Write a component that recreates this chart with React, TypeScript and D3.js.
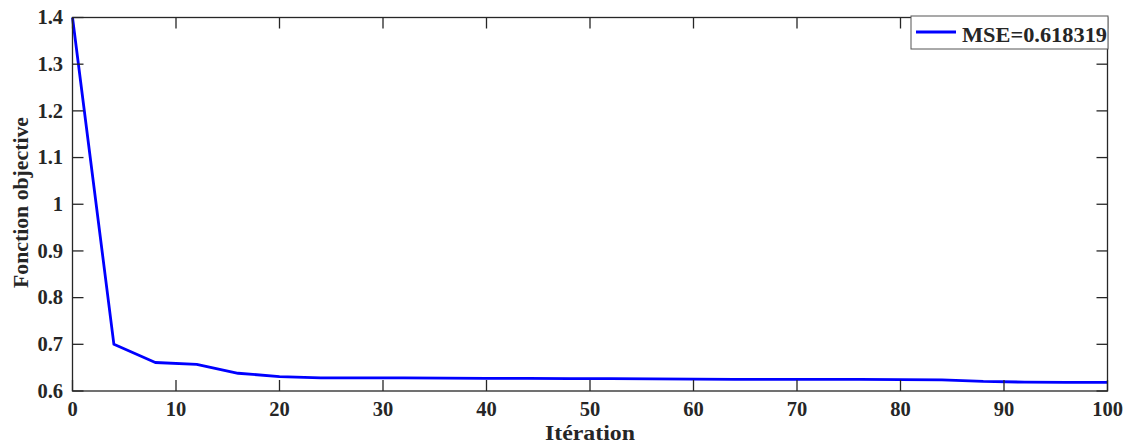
import React from "react";
import * as d3 from "d3";

const iterations = [0, 4, 8, 12, 16, 20, 24, 28, 32, 36, 40, 44, 48, 52, 56, 60, 64, 68, 72, 76, 80, 84, 88, 92, 96, 100];
const objective = [1.4, 0.7, 0.661, 0.657, 0.638, 0.631, 0.628, 0.628, 0.628, 0.6275, 0.627, 0.627, 0.6265, 0.6265, 0.626, 0.6255, 0.625, 0.625, 0.625, 0.625, 0.6245, 0.624, 0.6205, 0.619, 0.6185, 0.6183];
const xTicks = [0, 10, 20, 30, 40, 50, 60, 70, 80, 90, 100];
const yTicks = [0.6, 0.7, 0.8, 0.9, 1, 1.1, 1.2, 1.3, 1.4];
const legendLabel = "MSE=0.618319";
const xLabel = "Itération";
const yLabel = "Fonction objective";

export default function App() {
  const W = 1128, H = 446;
  const L = 72.5, R = 1107.5, T = 17.5, B = 391;
  const x = d3.scaleLinear().domain([0, 100]).range([L, R]);
  const y = d3.scaleLinear().domain([0.6, 1.4]).range([B, T]);
  const line = d3.line<number>().x((_, i) => x(iterations[i])).y((d) => y(d));
  const font = "'Liberation Serif', 'Times New Roman', serif";
  const axisColor = "#262626";
  const tl = 11;
  return (
    <svg width={W} height={H} style={{ position: "absolute", left: 0, top: 0, background: "#fff" }}>
      <rect x={L} y={T} width={R - L} height={B - T} fill="#fff" />
      <path d={line(objective) || ""} fill="none" stroke="#0000ff" strokeWidth={2.8} strokeLinejoin="round" />
      <rect x={L} y={T} width={R - L} height={B - T} fill="none" stroke={axisColor} strokeWidth={1.3} />
      {xTicks.map((t) => (
        <g key={"x" + t}>
          <line x1={x(t)} x2={x(t)} y1={B} y2={B - tl} stroke={axisColor} strokeWidth={1.3} />
          <line x1={x(t)} x2={x(t)} y1={T} y2={T + tl} stroke={axisColor} strokeWidth={1.3} />
          <text x={x(t)} y={B + 25} textAnchor="middle" fontFamily={font} fontWeight="bold" fontSize={20.5} fill={axisColor}>{t}</text>
        </g>
      ))}
      {yTicks.map((t) => (
        <g key={"y" + t}>
          <line x1={L} x2={L + tl} y1={y(t)} y2={y(t)} stroke={axisColor} strokeWidth={1.3} />
          <line x1={R} x2={R - tl} y1={y(t)} y2={y(t)} stroke={axisColor} strokeWidth={1.3} />
          <text x={L - 9.5} y={y(t) + 6.8} textAnchor="end" fontFamily={font} fontWeight="bold" fontSize={20.5} fill={axisColor}>{d3.format("~g")(t)}</text>
        </g>
      ))}
      <text x={545} y={440} textLength={90} lengthAdjust="spacingAndGlyphs" fontFamily={font} fontWeight="bold" fontSize={20} fill={axisColor}>{xLabel}</text>
      <text transform={`translate(28, 288) rotate(-90)`} textLength={171} lengthAdjust="spacingAndGlyphs" fontFamily={font} fontWeight="bold" fontSize={20} fill={axisColor}>{yLabel}</text>
      <rect x={911} y={16} width={197} height={33} fill="#fff" stroke="#555" strokeWidth={1} />
      <line x1={916} x2={956} y1={32} y2={32} stroke="#0000ff" strokeWidth={2.8} />
      <text x={962} y={41.5} textLength={145} lengthAdjust="spacingAndGlyphs" fontFamily={font} fontWeight="bold" fontSize={20} fill={axisColor}>{legendLabel}</text>
    </svg>
  );
}
